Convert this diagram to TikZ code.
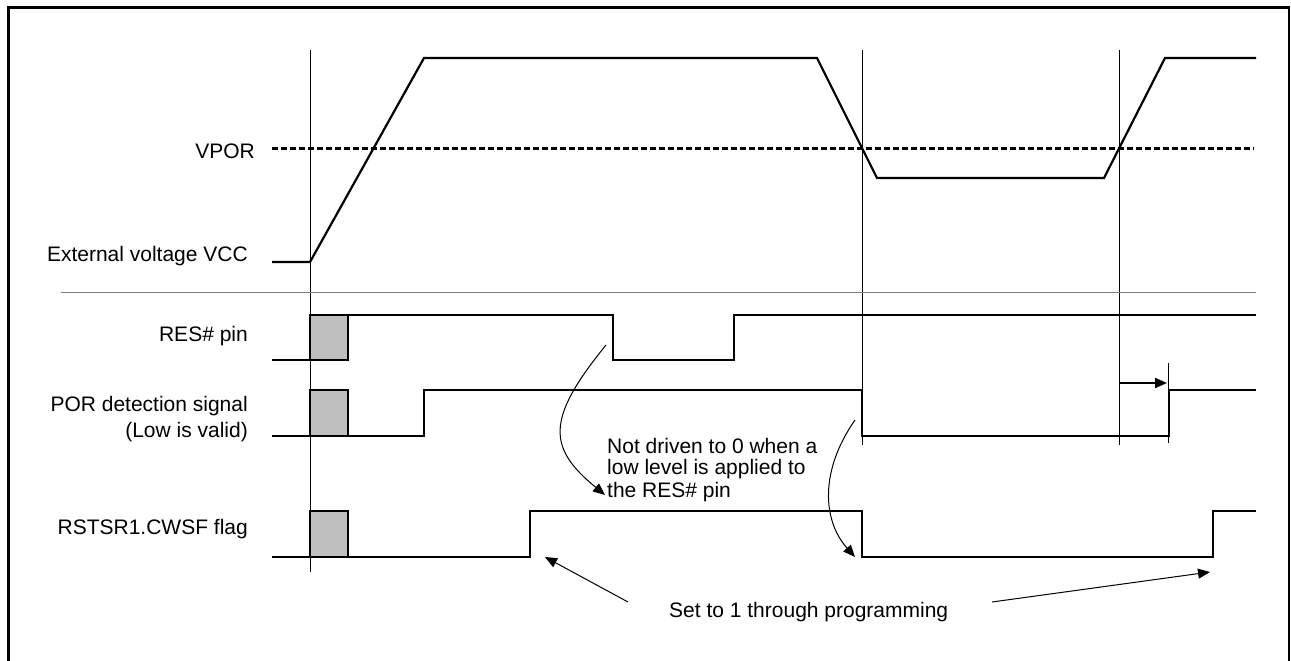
\documentclass[tikz,border=0pt]{standalone}
\usepackage{fontspec}
\setmainfont{Liberation Sans}
\usetikzlibrary{arrows.meta}
\begin{document}
\begin{tikzpicture}[x=1pt,y=-1pt,
  sig/.style={line width=2.2pt,line join=miter},
  guide/.style={line width=1pt},
  sepline/.style={line width=1.2pt,draw=black!50},
  grbox/.style={fill=black!25,draw=black,line width=2.2pt},
  lbl/.style={inner sep=0pt,font=\fontsize{21}{22}\selectfont},
  arr/.style={line width=1pt,-{Triangle[length=12pt,width=10pt]}},
  harr/.style={line width=2pt,-{Triangle[length=12pt,width=10pt]}},
  vpor/.style={line width=2.6pt,dash pattern=on 6pt off 3pt}]
\useasboundingbox (0,0) rectangle (1291,661);
% frame
\draw[line width=3.3pt] (8.3,661) -- (8.3,7.3) -- (1290,7.3);
\draw[line width=2pt] (1289,7.3) -- (1289,661);
% labels
\node[lbl,anchor=base east] (lvpor) at (255,158) {VPOR};
\node[lbl,anchor=base east] (lvcc) at (248,261) {External voltage VCC};
\node[lbl,anchor=base east] (lres) at (248,341) {RES\# pin};
\node[lbl,anchor=base east] (lpor1) at (248,411) {POR detection signal};
\node[lbl,anchor=base east] (lpor2) at (248,437.5) {(Low is valid)};
\node[lbl,anchor=base east] (lflag) at (248,534) {RSTSR1.CWSF flag};
\node[lbl,anchor=base west] (note1) at (607,453.3) {Not driven to 0 when a};
\node[lbl,anchor=base west] (note2) at (607,474.8) {low level is applied to};
\node[lbl,anchor=base west] (note3) at (607,497.5) {the RES\# pin};
\node[lbl,anchor=base west] (setnote) at (669,617) {Set to 1 through programming};
% vertical guide lines
\draw[guide] (310,50) -- (310,572);
\draw[guide] (862,50) -- (862,445);
\draw[guide] (1119.3,50) -- (1119.3,445);
\draw[guide] (1168.7,363) -- (1168.7,443);
% separator
\draw[sepline] (61,292.3) -- (1256,292.3);
% VPOR level
\draw[vpor] (272,148.3) -- (1254,148.3);
% VCC
\draw[sig] (272,262) -- (310,262) -- (424,58) -- (817,58) -- (877,178) -- (1104,178) -- (1165,58) -- (1256,58);
% RES# pin
\draw[grbox] (310,315) rectangle (348,360);
\draw[sig] (272,360) -- (310,360);
\draw[sig] (348,315) -- (613,315) -- (613,360) -- (734,360) -- (734,315) -- (1256,315);
% POR detection signal
\draw[grbox] (310,390) rectangle (348,436);
\draw[sig] (272,436) -- (310,436);
\draw[sig] (348,436) -- (424,436) -- (424,390) -- (862,390) -- (862,436) -- (1168.7,436) -- (1168.7,390) -- (1256,390);
% RSTSR1.CWSF flag
\draw[grbox] (310,511) rectangle (348,557);
\draw[sig] (272,557) -- (310,557);
\draw[sig] (348,557) -- (530,557) -- (530,511) -- (862,511) -- (862,557) -- (1213,557) -- (1213,511) -- (1256,511);
% arrows
\coordinate (c1s) at (606,345);
\coordinate (c1e) at (605,495);
\draw[arr] (c1s) .. controls (545,420) and (548,448) .. (c1e);
\coordinate (c2s) at (855,420);
\coordinate (c2e) at (855,557);
\draw[arr] (c2s) .. controls (820,470) and (822,520) .. (c2e);
\coordinate (a1s) at (628,602);
\coordinate (a1e) at (545,557);
\draw[arr] (a1s) -- (a1e);
\coordinate (a2s) at (992,602);
\coordinate (a2e) at (1210,572);
\draw[arr] (a2s) -- (a2e);
\coordinate (hs) at (1120,383);
\coordinate (he) at (1167,383);
\draw[harr] (hs) -- (he);
\end{tikzpicture}
\end{document}
